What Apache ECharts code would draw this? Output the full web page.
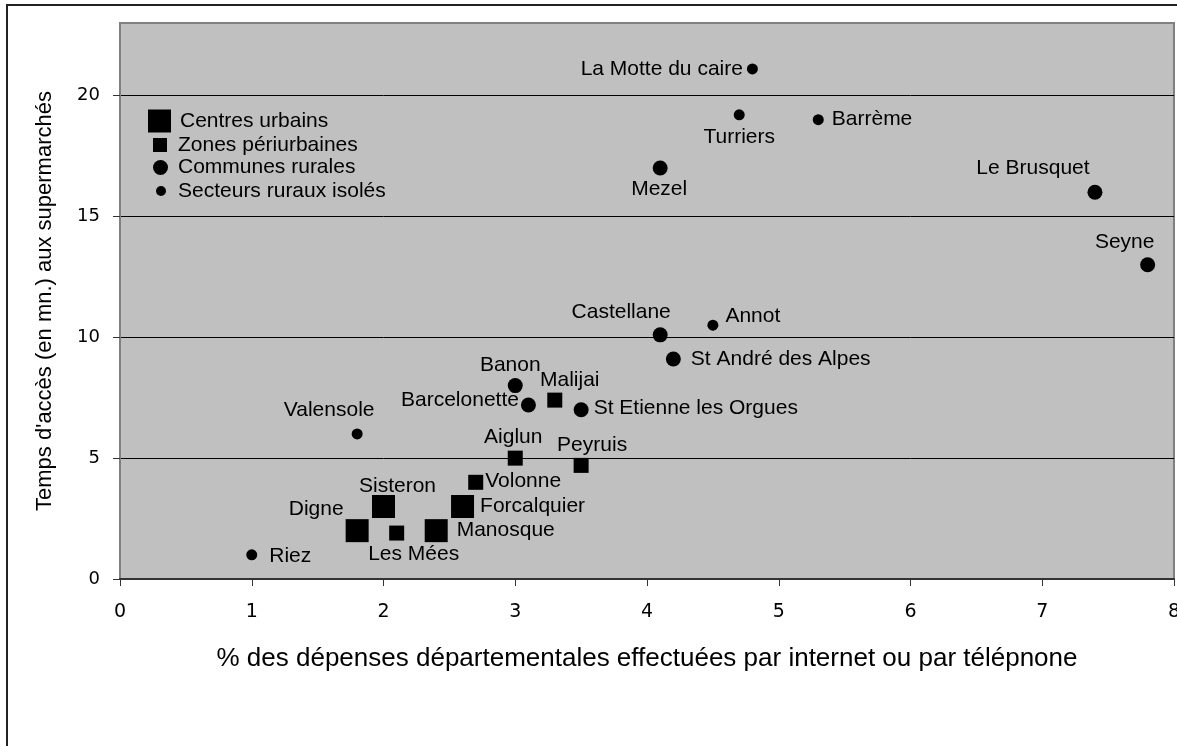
<!DOCTYPE html>
<html>
<head>
<meta charset="utf-8">
<script src="https://cdn.jsdelivr.net/npm/echarts@6/dist/echarts.min.js"></script>
<style>
html,body{margin:0;padding:0;background:#fff;}
#c{width:1177px;height:746px;}
</style>
</head>
<body>
<div id="c"></div>
<script>
const xTicks = [0, 1, 2, 3, 4, 5, 6, 7, 8];
const yTicks = [0, 5, 10, 15, 20];
const seriesNames = ['Centres urbains', 'Zones périurbaines', 'Communes rurales', 'Secteurs ruraux isolés'];

const urbainNames = ['Digne', 'Sisteron', 'Manosque', 'Forcalquier'];
const urbainX = [1.8, 2.0, 2.4, 2.6];
const urbainY = [2.0, 3.0, 2.0, 3.0];

const periNames = ['Les Mées', 'Volonne', 'Aiglun', 'Peyruis', 'Malijai'];
const periX = [2.1, 2.7, 3.0, 3.5, 3.3];
const periY = [1.9, 4.0, 5.0, 4.7, 7.4];

const ruralNames = ['Banon', 'Barcelonette', 'St Etienne les Orgues', 'Castellane', 'St André des Alpes', 'Mezel', 'Le Brusquet', 'Seyne'];
const ruralX = [3.0, 3.1, 3.5, 4.1, 4.2, 4.1, 7.4, 7.8];
const ruralY = [8.0, 7.2, 7.0, 10.1, 9.1, 17.0, 16.0, 13.0];

const isoleNames = ['Riez', 'Valensole', 'Annot', 'Turriers', 'Barrème', 'La Motte du caire'];
const isoleX = [1.0, 1.8, 4.5, 4.7, 5.3, 4.8];
const isoleY = [1.0, 6.0, 10.5, 19.2, 19.0, 21.1];

const xTitle = '% des dépenses départementales effectuées par internet ou par télépnone';
const yTitle = "Temps d'accès (en mn.) aux supermarchés";

// label placement (style only)
const labelPlace = {
  'Digne': {position: 'left', distance: 2, offset: [0, -21]},
  'Sisteron': {position: 'top', distance: 0, offset: [14, 2]},
  'Manosque': {position: 'right', distance: 9, offset: [0, 0]},
  'Forcalquier': {position: 'right', distance: 6, offset: [0, 0]},
  'Les Mées': {position: 'bottom', distance: 3, offset: [17, 0]},
  'Volonne': {position: 'right', distance: 2, offset: [0, -1]},
  'Aiglun': {position: 'top', distance: 3, offset: [-2, 0]},
  'Peyruis': {position: 'top', distance: 2, offset: [11, 0]},
  'Malijai': {position: 'top', distance: 2, offset: [15, 0]},
  'Banon': {position: 'top', distance: 2, offset: [-5, 0]},
  'Barcelonette': {position: 'left', distance: 2, offset: [0, -5]},
  'St Etienne les Orgues': {position: 'right', distance: 5, offset: [0, -2]},
  'Castellane': {position: 'top', distance: 5, offset: [-39, 0]},
  'St André des Alpes': {position: 'right', distance: 10, offset: [0, 0]},
  'Mezel': {position: 'bottom', distance: 3, offset: [-1, 0]},
  'Le Brusquet': {position: 'top', distance: 6, offset: [-62, 0]},
  'Seyne': {position: 'top', distance: 5, offset: [-23, 0]},
  'Riez': {position: 'right', distance: 12, offset: [0, 1]},
  'Valensole': {position: 'top', distance: 8, offset: [-28, 0]},
  'Annot': {position: 'right', distance: 7, offset: [0, -9]},
  'Turriers': {position: 'bottom', distance: 6, offset: [0, 0]},
  'Barrème': {position: 'right', distance: 8, offset: [0, 0]},
  'La Motte du caire': {position: 'left', distance: 4, offset: [0, 0]}
};

function build(names, xs, ys) {
  return names.map((n, i) => ({
    name: n,
    value: [xs[i], ys[i]],
    label: Object.assign({show: true}, labelPlace[n] || {})
  }));
}

const labelFont = {fontFamily: 'Liberation Sans', fontSize: 21, color: '#000'};

const chart = echarts.init(document.getElementById('c'), null, {renderer: 'canvas'});

function mkSeries(name, symbol, size, data) {
  return {
    name: name,
    type: 'scatter',
    symbol: symbol,
    symbolSize: size,
    itemStyle: {color: '#000', opacity: 1},
    label: Object.assign({show: true, formatter: p => p.name}, labelFont),
    emphasis: {disabled: true},
    data: data
  };
}

const legendText = {fontFamily: 'Liberation Sans', fontSize: 21, color: '#000', lineHeight: 22};

chart.setOption({
  animation: false,
  backgroundColor: '#ffffff',
  graphic: [{
    type: 'rect',
    z: -10,
    shape: {x: 7, y: 5, width: 1300, height: 900},
    style: {fill: 'none', stroke: '#222', lineWidth: 2}
  }],
  grid: {
    left: 120, right: 3, top: 23, bottom: 167,
    outerBoundsMode: 'none', containLabel: false,
    show: true, backgroundColor: '#c0c0c0', borderColor: '#808080', borderWidth: 2
  },
  legend: [
    {data: [seriesNames[0]], left: 148, top: 109.5, padding: 0, itemWidth: 23, itemHeight: 23, icon: 'rect',
     textStyle: Object.assign({padding: [0, 0, 0, 4]}, legendText), selectedMode: false},
    {data: [seriesNames[1]], left: 153, top: 134, padding: 0, itemWidth: 14, itemHeight: 14, icon: 'rect',
     textStyle: Object.assign({padding: [0, 0, 0, 6]}, legendText), selectedMode: false},
    {data: [seriesNames[2]], left: 153, top: 156.5, padding: 0, itemWidth: 15, itemHeight: 15, icon: 'circle',
     textStyle: Object.assign({padding: [0, 0, 0, 5]}, legendText), selectedMode: false},
    {data: [seriesNames[3]], left: 156, top: 180, padding: 0, itemWidth: 10, itemHeight: 10, icon: 'circle',
     textStyle: Object.assign({padding: [0, 0, 0, 7]}, legendText), selectedMode: false}
  ],
  xAxis: {
    type: 'value', min: 0, max: 8, interval: 1,
    name: xTitle, nameLocation: 'middle', nameGap: 67,
    nameTextStyle: {fontFamily: 'Liberation Sans', fontSize: 26, color: '#000'},
    axisLine: {show: true, onZero: false, lineStyle: {color: '#333', width: 2}},
    axisTick: {show: true, inside: false, length: 7, lineStyle: {color: '#333', width: 1}, customValues: xTicks},
    axisLabel: {show: true, margin: 24, fontFamily: 'DejaVu Sans', fontSize: 19, color: '#000', customValues: xTicks},
    splitLine: {show: false}
  },
  yAxis: {
    type: 'value', min: 0, max: 23, interval: 5,
    name: yTitle, nameLocation: 'middle', nameGap: 64,
    nameTextStyle: {fontFamily: 'Liberation Sans', fontSize: 22, color: '#000'},
    axisLine: {show: true, lineStyle: {color: '#808080', width: 2}},
    axisTick: {show: true, inside: false, length: 7, lineStyle: {color: '#333', width: 1}, customValues: yTicks},
    axisLabel: {show: true, margin: 20, fontFamily: 'DejaVu Sans', fontSize: 18, color: '#000', customValues: yTicks},
    splitLine: {show: true, lineStyle: {color: '#000', width: 1}}
  },
  series: [
    mkSeries(seriesNames[0], 'rect', 23, build(urbainNames, urbainX, urbainY)),
    mkSeries(seriesNames[1], 'rect', 15, build(periNames, periX, periY)),
    mkSeries(seriesNames[2], 'circle', 15, build(ruralNames, ruralX, ruralY)),
    mkSeries(seriesNames[3], 'circle', 11, build(isoleNames, isoleX, isoleY))
  ]
});
</script>
</body>
</html>
